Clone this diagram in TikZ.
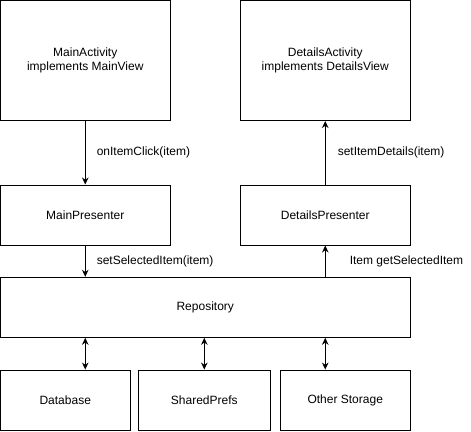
\documentclass[tikz,border=0pt]{standalone}
\usepackage{fontspec}
\setmainfont{Liberation Sans}
\usetikzlibrary{arrows.meta}
\begin{document}
\begin{tikzpicture}[x=1pt,y=-1pt,
  box/.style={draw,line width=1pt,inner sep=0pt,align=center,font=\fontsize{12}{14}\selectfont},
  conn/.style={line width=1pt,-{Stealth[length=7pt,width=6.5pt]}},
  both/.style={line width=1pt,{Stealth[length=7pt,width=6.5pt]}-{Stealth[length=7pt,width=6.5pt]}},
  lbl/.style={anchor=west,inner sep=0pt,font=\fontsize{12}{14}\selectfont}]
\useasboundingbox (0,0) rectangle (471,431);
\node[box,minimum width=170pt,minimum height=120pt] (ma) at (85.25,60.5) {MainActivity\\implements MainView};
\node[box,minimum width=170pt,minimum height=120pt] (da) at (325.25,60.5) {DetailsActivity\\implements DetailsView};
\node[box,minimum width=170pt,minimum height=60pt] (mp) at (85.25,215) {MainPresenter};
\node[box,minimum width=170pt,minimum height=60pt] (dp) at (325.25,215) {DetailsPresenter};
\node[box,minimum width=410pt,minimum height=60pt] (repo) at (205.25,307.3) {Repository};
\node[box,minimum width=130pt,minimum height=60.5pt] (db) at (65.25,400.3) {Database};
\node[box,minimum width=132pt,minimum height=60.5pt] (sp) at (204.3,400.3) {SharedPrefs};
\node[box,minimum width=130pt,minimum height=60.5pt] (os) at (345.25,400.3) {Other Storage};
\draw[conn] (ma.south) -- (mp.north) node[lbl,midway,xshift=11pt] {onItemClick(item)};
\draw[conn] (dp.north) -- (da.south) node[lbl,midway,xshift=12pt] {setItemDetails(item)};
\draw[conn] (mp.south) -- (mp.south |- repo.north) node[lbl,midway,xshift=11pt] {setSelectedItem(item)};
\draw[conn] (dp.south |- repo.north) -- (dp.south) node[lbl,midway,xshift=24pt] {Item getSelectedItem};
\draw[both] (db.north -| mp.south) -- (mp.south |- repo.south);
\draw[both] (sp.north) -- (sp.north |- repo.south);
\draw[both] (os.north -| dp.south) -- (dp.south |- repo.south);
\end{tikzpicture}
\end{document}
